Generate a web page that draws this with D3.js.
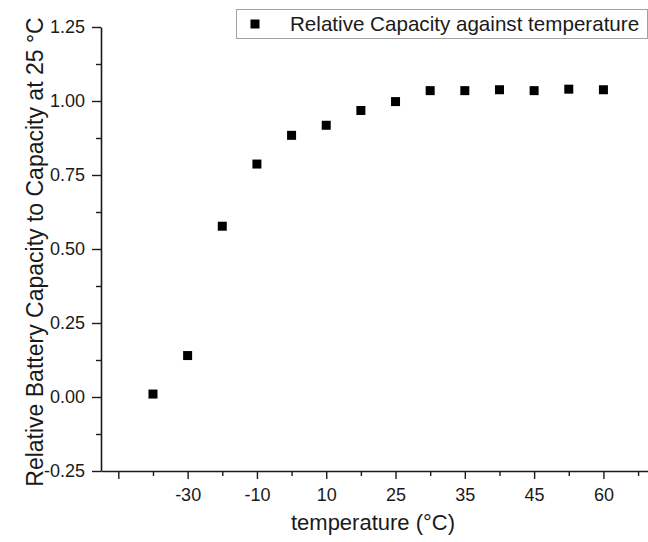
<!DOCTYPE html>
<html>
<head>
<meta charset="utf-8">
<script src="https://cdn.jsdelivr.net/npm/d3@7"></script>
<style>
  html, body { margin: 0; padding: 0; background: #fff; }
  svg { display: block; font-family: "Liberation Sans", Arial, sans-serif; }
</style>
</head>
<body>
<svg id="chart" width="648" height="542"></svg>
<script>
// ---- data ----
const temperatures = [-40, -30, -20, -10, 0, 10, 20, 25, 30, 35, 40, 45, 50, 60];
const relCapacity = [0.010, 0.140, 0.577, 0.787, 0.884, 0.918, 0.968, 0.998, 1.035, 1.035, 1.038, 1.035, 1.040, 1.038];
const yTickValues = [-0.25, 0, 0.25, 0.5, 0.75, 1.0, 1.25];
const yMinorValues = [-0.125, 0.125, 0.375, 0.625, 0.875, 1.125];
const xMajorIdx = [-1, 1, 3, 5, 7, 9, 11, 13];
const xMinorIdx = [0, 2, 4, 6, 8, 10, 12, 14];
const legendLabel = "Relative Capacity against temperature";
const xTitle = "temperature (°C)";
const yTitle = "Relative Battery Capacity to Capacity at 25 °C";

// ---- layout ----
const svg = d3.select("#chart");
const plotLeft = 101, plotTop = 27, plotBottom = 471;
const step = 34.65;
const x = d3.scaleLinear().domain([-1.5, 14.5]).range([plotLeft, plotLeft + 16 * step]);
const y = d3.scaleLinear().domain([-0.25, 1.25]).range([plotBottom, plotTop]);
const ink = "#1a1a1a";

// y axis
svg.append("g").attr("transform", `translate(${plotLeft},0)`)
  .call(d3.axisLeft(y).tickValues(yTickValues).tickFormat(d => d.toFixed(2))
    .tickSize(9).tickSizeOuter(0).tickPadding(7));
const yMinor = svg.append("g").attr("transform", `translate(${plotLeft},0)`)
  .call(d3.axisLeft(y).tickValues(yMinorValues).tickFormat("").tickSize(5).tickSizeOuter(0));
yMinor.select(".domain").remove();

// x axis
svg.append("g").attr("transform", `translate(0,${plotBottom})`)
  .call(d3.axisBottom(x).tickValues(xMajorIdx)
    .tickFormat(i => (i >= 0 && i < temperatures.length) ? String(temperatures[i]) : "")
    .tickSize(8).tickSizeOuter(0).tickPadding(9));
const xMinor = svg.append("g").attr("transform", `translate(0,${plotBottom})`)
  .call(d3.axisBottom(x).tickValues(xMinorIdx).tickFormat("").tickSize(5).tickSizeOuter(0));
xMinor.select(".domain").remove();

svg.selectAll(".domain").attr("stroke", ink).attr("stroke-width", 1.6);
svg.selectAll(".tick line").attr("stroke", ink).attr("stroke-width", 1.4);
svg.selectAll(".tick text").attr("fill", ink).style("font-size", "18px")
  .style("font-family", "'Liberation Sans', Arial, sans-serif");

// axis titles
svg.append("text")
  .attr("x", 373).attr("y", 530)
  .attr("text-anchor", "middle").attr("fill", ink)
  .style("font-size", "22px").text(xTitle);

svg.append("text")
  .attr("transform", `translate(43,${(plotTop + plotBottom) / 2 + 3}) rotate(-90)`)
  .attr("text-anchor", "middle").attr("fill", ink)
  .style("font-size", "23px").text(yTitle);

// points
const ms = 9;
svg.append("g").selectAll("rect").data(relCapacity).join("rect")
  .attr("x", (d, i) => x(i) - ms / 2)
  .attr("y", d => y(d) - ms / 2)
  .attr("width", ms).attr("height", ms)
  .attr("fill", "#000");

// legend
const lg = svg.append("g");
lg.append("rect").attr("x", 236.5).attr("y", 9.5).attr("width", 411).attr("height", 29)
  .attr("fill", "#fff").attr("stroke", "#a0a0a0").attr("stroke-width", 1);
lg.append("rect").attr("x", 255 - ms / 2).attr("y", 24 - ms / 2).attr("width", ms).attr("height", ms).attr("fill", "#000");
lg.append("text").attr("x", 290).attr("y", 31).attr("fill", ink)
  .style("font-size", "20.6px").text(legendLabel);
</script>
</body>
</html>
